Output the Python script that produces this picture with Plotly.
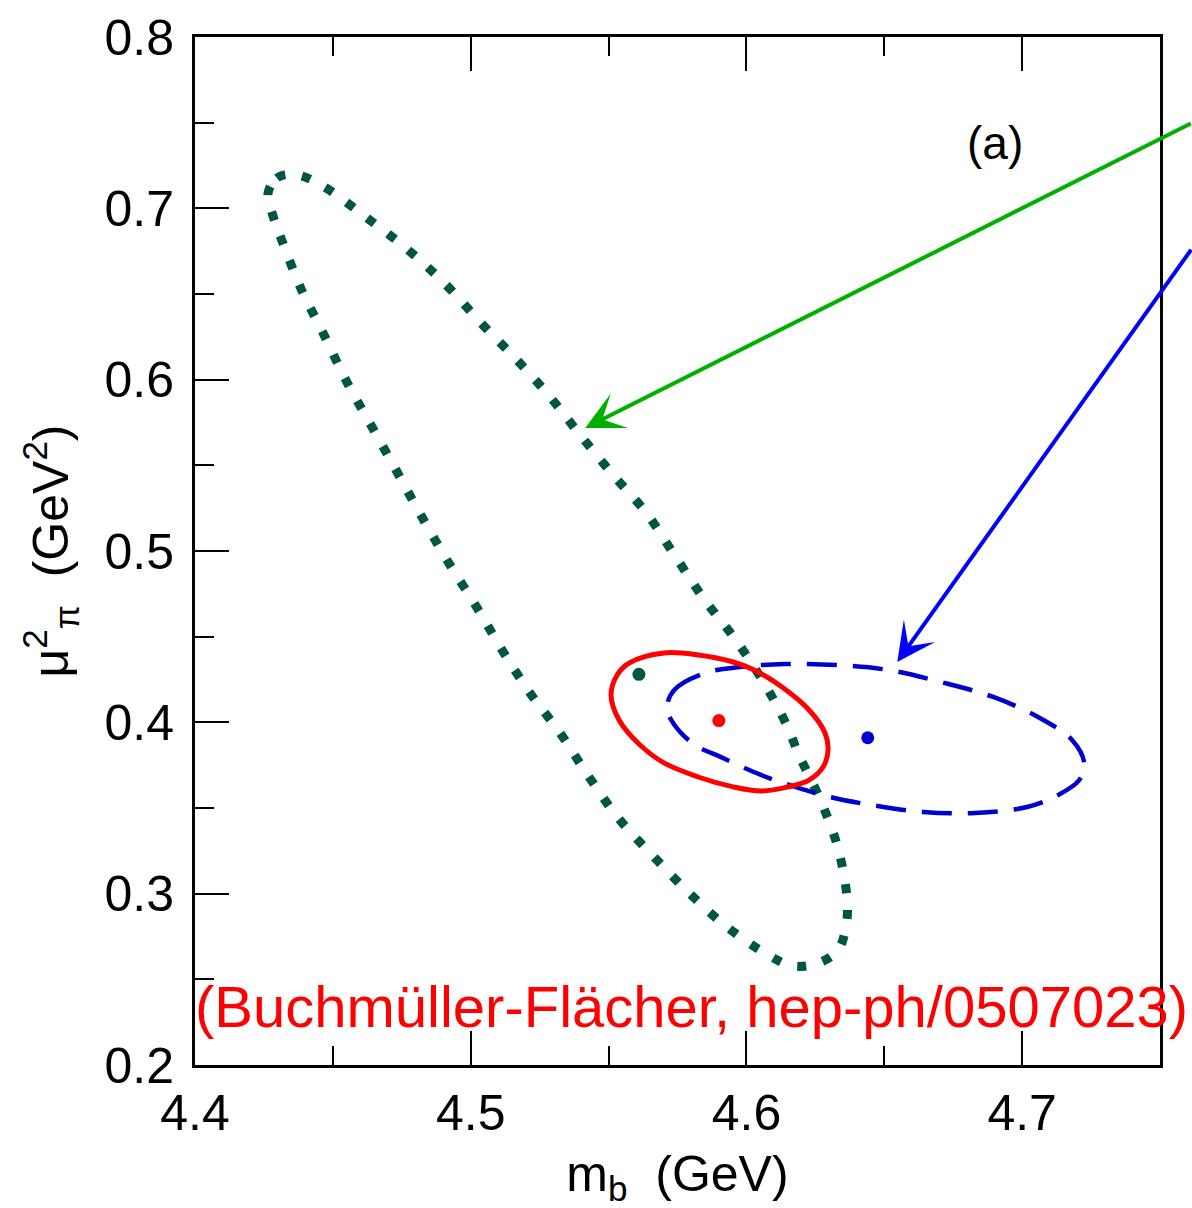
import plotly.graph_objects as go

# ---- data ----
# dotted (dark green) contour
dot_x = [4.4265, 4.4297, 4.4345, 4.4388, 4.4475, 4.4624, 4.4773, 4.4911, 4.5037, 4.5164,
         4.5288, 4.5400, 4.5520, 4.5640, 4.5741, 4.5846, 4.5959, 4.6064, 4.6151, 4.6187,
         4.6267, 4.6332, 4.6365, 4.6362, 4.6332, 4.6260, 4.6169, 4.6079, 4.5930, 4.5792,
         4.5665, 4.5538, 4.5429, 4.5324, 4.5215, 4.5114, 4.5019, 4.4918, 4.4823, 4.4733,
         4.4642, 4.4551, 4.4468, 4.4385, 4.4316, 4.4283, 4.4265]
dot_y = [0.7089, 0.7177, 0.7200, 0.7189, 0.7119, 0.6944, 0.6757, 0.6553, 0.6331, 0.6121,
         0.5899, 0.5671, 0.5438, 0.5216, 0.4971, 0.4720, 0.4486, 0.4230, 0.3967, 0.3821,
         0.3552, 0.3266, 0.2969, 0.2817, 0.2671, 0.2595, 0.2578, 0.2642, 0.2805, 0.3004,
         0.3214, 0.3436, 0.3681, 0.3938, 0.4171, 0.4422, 0.4679, 0.4936, 0.5198, 0.5461,
         0.5724, 0.5986, 0.6261, 0.6529, 0.6809, 0.6955, 0.7089]

# red solid contour
red_x = [4.5509, 4.5531, 4.5574, 4.5701, 4.5825, 4.5952, 4.6028, 4.6129, 4.6227, 4.6285,
         4.6296, 4.6278, 4.6227, 4.6151, 4.6053, 4.5952, 4.5825, 4.5701, 4.5614, 4.5538, 4.5509]
red_y = [0.4160, 0.4276, 0.4346, 0.4405, 0.4393, 0.4352, 0.4305, 0.4206, 0.4072, 0.3938,
         0.3839, 0.3739, 0.3663, 0.3623, 0.3599, 0.3623, 0.3681, 0.3763, 0.3868, 0.4014, 0.4160]

# blue dashed contour
blue_x = [4.5712, 4.5738, 4.5850, 4.5977, 4.6140, 4.6329, 4.6517, 4.6706, 4.6895, 4.7058,
          4.7181, 4.7225, 4.7207, 4.7131, 4.7018, 4.6829, 4.6641, 4.6456, 4.6303, 4.6177,
          4.6053, 4.5915, 4.5803, 4.5727, 4.5712]
blue_y = [0.4089, 0.4189, 0.4288, 0.4323, 0.4340, 0.4334, 0.4305, 0.4235, 0.4148, 0.4031,
          0.3897, 0.3763, 0.3663, 0.3576, 0.3506, 0.3471, 0.3477, 0.3517, 0.3564, 0.3623,
          0.3693, 0.3792, 0.3879, 0.4014, 0.4089]

# central values
center_x = [4.561, 4.590, 4.644]
center_y = [0.428, 0.401, 0.391]
center_colors = ["#005544", "#ff0000", "#0000d0"]

# arrows (tail -> head)
green_arrow = dict(tail=(4.7617, 0.750), head=(4.5415, 0.5718))
blue_arrow = dict(tail=(4.7617, 0.6768), head=(4.6547, 0.4352))

x_ticks = [4.4, 4.5, 4.6, 4.7]
y_ticks = [0.2, 0.3, 0.4, 0.5, 0.6, 0.7, 0.8]

fig = go.Figure()
fig.add_trace(go.Scatter(x=dot_x, y=dot_y, mode="lines", line=dict(color="#005544", width=9, dash="9px,17px", shape="spline"), hoverinfo="skip"))
fig.add_trace(go.Scatter(x=blue_x, y=blue_y, mode="lines", line=dict(color="#0000d0", width=4.5, dash="30px,16px", shape="spline"), hoverinfo="skip"))
fig.add_trace(go.Scatter(x=red_x, y=red_y, mode="lines", line=dict(color="#ff0000", width=5, shape="spline"), hoverinfo="skip"))
fig.add_trace(go.Scatter(x=center_x, y=center_y, mode="markers", marker=dict(color=center_colors, size=13), hoverinfo="skip"))

font = "Liberation Sans, Arial, Helvetica, sans-serif"

for arr, col, w in [(green_arrow, "#00b000", 4), (blue_arrow, "#0000ff", 4)]:
    fig.add_annotation(x=arr["head"][0], y=arr["head"][1], ax=arr["tail"][0], ay=arr["tail"][1],
                       xref="x", yref="y", axref="x", ayref="y", text="", showarrow=True,
                       arrowhead=3, arrowsize=1.6, arrowwidth=w, arrowcolor=col)

fig.add_annotation(x=4.690, y=0.738, xref="x", yref="y", text="(a)", showarrow=False,
                   font=dict(size=46, color="black", family=font))
fig.add_annotation(x=4.580, y=0.234, xref="x", yref="y", text="(Buchmüller-Flächer, hep-ph/0507023)",
                   showarrow=False, font=dict(size=58, color="#ff0000", family=font))

fig.update_layout(
    width=1192, height=1208,
    margin=dict(l=195, r=32, t=37, b=143, autoexpand=False),
    plot_bgcolor="white", paper_bgcolor="white",
    showlegend=False,
    font=dict(family=font, size=50, color="black"),
    xaxis=dict(range=[4.4, 4.75], tickvals=x_ticks, ticktext=[f"{v:.1f}" for v in x_ticks],
               ticks="inside", ticklen=34, tickwidth=2, tickcolor="black", automargin=False,
               minor=dict(ticks="inside", ticklen=19, tickwidth=2, tickcolor="black", dtick=0.05, tick0=4.4),
               showline=True, linewidth=3, linecolor="black", mirror="ticks",
               showgrid=False, zeroline=False, ticklabelstandoff=2,
               title=dict(text="m<sub>b</sub>  (GeV)", font=dict(size=50), standoff=26)),
    yaxis=dict(range=[0.2, 0.8], tickvals=y_ticks, ticktext=[f"{v:.1f}" for v in y_ticks],
               ticks="inside", ticklen=34, tickwidth=2, tickcolor="black", automargin=False,
               minor=dict(ticks="inside", ticklen=19, tickwidth=2, tickcolor="black", dtick=0.05, tick0=0.2),
               showline=True, linewidth=3, linecolor="black", mirror=True,
               showgrid=False, zeroline=False, ticklabelstandoff=8,
               title=dict(text="μ<sup>2</sup><sub>π</sub>  (GeV<sup>2</sup>)", font=dict(size=50), standoff=20)),
)

fig.write_html("out.html", config={"displayModeBar": False},
               post_script="document.body.style.margin='0px';document.body.style.overflow='hidden';")
